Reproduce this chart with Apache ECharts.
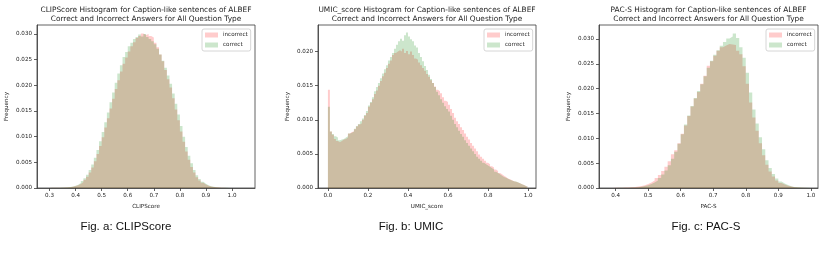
<!DOCTYPE html>
<html><head><meta charset="utf-8">
<script src="https://cdn.jsdelivr.net/npm/echarts@6/dist/echarts.min.js"></script>
<style>html,body{margin:0;padding:0;background:#fff}#c{width:830px;height:255px}</style>
</head><body><div id="c"></div>
<script>
// ---------- data ----------
const seriesNames = ['incorrect', 'correct'];

// Fig a: CLIPScore (bins of width 0.01 starting at 0.29)
const clipBinStart = 0.29, clipBinWidth = 0.01;
const clipIncorrect = [
  0.00002,0.00003,0.00003,0.00004,0.00005,0.00007,0.00009,0.00012,0.00017,0.00025,
  0.00038,0.00055,0.0008,0.00115,0.0016,0.0022,0.0030,0.0040,0.0052,0.0066,
  0.0082,0.0099,0.0118,0.0136,0.0155,0.0174,0.0193,0.0210,0.0227,0.0242,
  0.0254,0.0266,0.0276,0.0284,0.0292,0.0296,0.0301,0.0298,0.0300,0.0296,
  0.0293,0.0283,0.0274,0.0260,0.0247,0.0230,0.0212,0.0196,0.0175,0.0153,
  0.0132,0.0110,0.0090,0.0071,0.0055,0.0041,0.0030,0.0021,0.00145,0.0010,
  0.0007,0.00045,0.0003,0.0002,0.00013,0.00008,0.00005,0.00003,0.00002,0.000015,
  0.00001,0.000008,0.000005,0.000004,0.000003,0.000002
];
const clipCorrect = [
  0.00002,0.00003,0.00004,0.00005,0.00006,0.00008,0.0001,0.00014,0.0002,0.0003,
  0.00045,0.00065,0.00095,0.00135,0.0019,0.0026,0.0035,0.0046,0.0059,0.0074,
  0.0091,0.0109,0.0128,0.0147,0.0167,0.0186,0.0205,0.0223,0.0239,0.0255,
  0.0265,0.0276,0.0283,0.0290,0.0294,0.0299,0.0295,0.0300,0.0294,0.0290,
  0.0286,0.0280,0.0271,0.0260,0.0248,0.0234,0.0219,0.0203,0.0184,0.0164,
  0.0143,0.0121,0.0100,0.0080,0.0063,0.0048,0.0035,0.0025,0.00175,0.0012,
  0.00085,0.00055,0.00036,0.00024,0.00016,0.0001,0.00006,0.00004,0.000025,0.000018,
  0.000012,0.000009,0.000006,0.000004,0.000003,0.000002
];

// Fig b: UMIC_score (bins of width 0.01 starting at 0.00)
const umicBinStart = 0.0, umicBinWidth = 0.01;
const umicIncorrect = [
  0.0144,0.0083,0.0078,0.0072,0.0069,0.0067,0.0069,0.0071,0.0072,0.0074,
  0.0080,0.0082,0.0083,0.0086,0.0090,0.0093,0.0095,0.0100,0.0106,0.0110,
  0.0119,0.0125,0.0130,0.0138,0.0143,0.0150,0.0157,0.0164,0.0169,0.0176,
  0.0182,0.0187,0.0195,0.0198,0.0200,0.0202,0.0200,0.0204,0.0198,0.0201,
  0.0196,0.0200,0.0195,0.0190,0.0188,0.0184,0.0180,0.0176,0.0172,0.0167,
  0.0163,0.0158,0.0154,0.0149,0.0144,0.0142,0.0139,0.0133,0.0128,0.0126,
  0.0122,0.0116,0.0110,0.0103,0.0098,0.0094,0.0089,0.0085,0.0080,0.0075,
  0.0071,0.0066,0.0062,0.0058,0.0054,0.0049,0.0046,0.0043,0.0040,0.0037,
  0.0035,0.0032,0.0030,0.0027,0.0025,0.0022,0.0020,0.0018,0.0016,0.0014,
  0.0013,0.00115,0.0010,0.0009,0.0008,0.0007,0.00055,0.00045,0.0003,0.00015
];
const umicCorrect = [
  0.0119,0.0083,0.0079,0.0076,0.0074,0.0070,0.0071,0.0072,0.0074,0.0076,
  0.0080,0.0081,0.0083,0.0087,0.0091,0.0094,0.0098,0.0102,0.0107,0.0113,
  0.0121,0.0126,0.0133,0.0142,0.0148,0.0154,0.0161,0.0168,0.0174,0.0180,
  0.0187,0.0192,0.0198,0.0204,0.0210,0.0215,0.0219,0.0216,0.0224,0.0228,
  0.0222,0.0218,0.0215,0.0209,0.0206,0.0198,0.0192,0.0186,0.0179,0.0173,
  0.0166,0.0160,0.0154,0.0148,0.0141,0.0136,0.0130,0.0125,0.0120,0.0116,
  0.0112,0.0106,0.0100,0.0094,0.0089,0.0084,0.0079,0.0075,0.0070,0.0066,
  0.0062,0.0058,0.0054,0.0050,0.0046,0.0043,0.0040,0.0037,0.0035,0.0033,
  0.0031,0.0029,0.0027,0.0024,0.0022,0.0020,0.0018,0.0016,0.0015,0.00135,
  0.0012,0.0011,0.0010,0.00095,0.00085,0.0007,0.00055,0.00045,0.0003,0.00015
];

// Fig c: PAC-S (bins of width 0.01 starting at 0.38)
const pacsBinStart = 0.38, pacsBinWidth = 0.01;
const pacsIncorrect = [
  0.00002,0.00003,0.00005,0.00007,0.00009,0.00012,0.00015,0.0002,0.00028,0.0004,
  0.00055,0.0008,0.0011,0.0015,0.0020,0.0026,0.0034,0.0043,0.0054,0.0068,
  0.0076,0.0090,0.0109,0.0126,0.0145,0.0164,0.0180,0.0193,0.0210,0.0226,
  0.0246,0.0255,0.0266,0.0276,0.0283,0.0287,0.0290,0.0289,0.0288,0.0276,
  0.0269,0.0245,0.0210,0.0172,0.0142,0.0115,0.0090,0.0066,0.0047,0.0033,
  0.0023,0.0015,0.0010,0.0007,0.00045,0.00028,0.00017,0.0001,0.00006,0.00004,
  0.00002,0.00001
];
const pacsCorrect = [
  0.00001,0.00002,0.00003,0.00004,0.00005,0.00007,0.00009,0.00012,0.00017,0.00025,
  0.00038,0.00055,0.0008,0.0011,0.0015,0.0020,0.0027,0.0035,0.0046,0.0059,
  0.0073,0.0089,0.0108,0.0128,0.0146,0.0165,0.0181,0.0195,0.0209,0.0225,
  0.0242,0.0256,0.0268,0.0277,0.0286,0.0294,0.0301,0.0305,0.0311,0.0302,
  0.0283,0.0262,0.0232,0.0192,0.0158,0.0130,0.0102,0.0078,0.0056,0.0040,
  0.0028,0.0019,0.0013,0.0009,0.0006,0.00036,0.00022,0.00013,0.00008,0.00005,
  0.00003,0.000015
];

// tick labels
const clipXTicks = [0.3,0.4,0.5,0.6,0.7,0.8,0.9,1.0];
const clipYTicks = [0,0.005,0.010,0.015,0.020,0.025,0.030];
const umicXTicks = [0.0,0.2,0.4,0.6,0.8,1.0];
const umicYTicks = [0,0.005,0.010,0.015,0.020];
const pacsXTicks = [0.4,0.5,0.6,0.7,0.8,0.9,1.0];
const pacsYTicks = [0,0.005,0.010,0.015,0.020,0.025,0.030];

const titles = [
  'CLIPScore Histogram for Caption-like sentences of ALBEF\nCorrect and Incorrect Answers for All Question Type',
  'UMIC_score Histogram for Caption-like sentences of ALBEF\nCorrect and Incorrect Answers for All Question Type',
  'PAC-S Histogram for Caption-like sentences of ALBEF\nCorrect and Incorrect Answers for All Question Type'
];
const xNames = ['CLIPScore', 'UMIC_score', 'PAC-S'];
const captions = ['Fig. a: CLIPScore', 'Fig. b: UMIC', 'Fig. c: PAC-S'];

// ---------- build ----------
function stepData(start, width, vals) {
  const out = vals.map((v, i) => [+(start + i * width).toFixed(5), v]);
  out.push([+(start + vals.length * width).toFixed(5), vals[vals.length - 1]]);
  return out;
}

const RED = 'rgba(255,0,0,0.2)';
const GREEN = 'rgba(0,128,0,0.2)';
const FONT = 'DejaVu Sans';
const AX = '#3a3a3a';

const panels = [
  { grid: {left: 37, top: 25, width: 218, height: 163}, xmin: 0.252, xmax: 1.088, ymax: 0.03175,
    xt: clipXTicks, yt: clipYTicks, xd: 1,
    inc: stepData(clipBinStart, clipBinWidth, clipIncorrect), cor: stepData(clipBinStart, clipBinWidth, clipCorrect),
    legendLeft: 202 },
  { grid: {left: 318, top: 25, width: 218, height: 163}, xmin: -0.0495, xmax: 1.0395, ymax: 0.0239,
    xt: umicXTicks, yt: umicYTicks, xd: 1,
    inc: stepData(umicBinStart, umicBinWidth, umicIncorrect), cor: stepData(umicBinStart, umicBinWidth, umicCorrect),
    legendLeft: 484 },
  { grid: {left: 599, top: 25, width: 219, height: 163}, xmin: 0.349, xmax: 1.022, ymax: 0.0328,
    xt: pacsXTicks, yt: pacsYTicks, xd: 1,
    inc: stepData(pacsBinStart, pacsBinWidth, pacsIncorrect), cor: stepData(pacsBinStart, pacsBinWidth, pacsCorrect),
    legendLeft: 766 }
];

const option = {
  animation: false,
  backgroundColor: '#fff',
  grid: [], xAxis: [], yAxis: [], series: [], legend: [], graphic: []
};

panels.forEach((p, i) => {
  option.grid.push(Object.assign({show: true, borderColor: AX, borderWidth: 0.8, backgroundColor: 'transparent'}, p.grid));
  option.xAxis.push({
    type: 'value', gridIndex: i, min: p.xmin, max: p.xmax,
    name: xNames[i], nameLocation: 'middle', nameGap: 15,
    nameTextStyle: {fontFamily: FONT, fontSize: 5.6, color: '#222'},
    axisLine: {show: true, onZero: false, lineStyle: {color: AX, width: 0.8}},
    axisTick: {show: true, length: 3, lineStyle: {color: AX, width: 0.8}, customValues: p.xt},
    axisLabel: {show: true, fontFamily: FONT, fontSize: 5.6, color: '#222', margin: 5,
      customValues: p.xt, formatter: v => Number(v).toFixed(p.xd)},
    splitLine: {show: false}
  });
  option.yAxis.push({
    type: 'value', gridIndex: i, min: 0, max: p.ymax,
    name: 'Frequency', nameLocation: 'middle', nameGap: 27,
    nameTextStyle: {fontFamily: FONT, fontSize: 5.6, color: '#222'},
    axisLine: {show: true, onZero: false, lineStyle: {color: AX, width: 0.8}},
    axisTick: {show: true, length: 3, lineStyle: {color: AX, width: 0.8}, customValues: p.yt},
    axisLabel: {show: true, fontFamily: FONT, fontSize: 5.6, color: '#222', margin: 5,
      customValues: p.yt, formatter: v => Number(v).toFixed(3)},
    splitLine: {show: false}
  });
  option.series.push({
    name: seriesNames[0], type: 'line', xAxisIndex: i, yAxisIndex: i, step: 'end',
    data: p.inc, showSymbol: false, symbol: 'none',
    lineStyle: {width: 0, color: RED}, itemStyle: {color: RED},
    areaStyle: {color: RED, opacity: 1}, z: 2
  });
  option.series.push({
    name: seriesNames[1], type: 'line', xAxisIndex: i, yAxisIndex: i, step: 'end',
    data: p.cor, showSymbol: false, symbol: 'none',
    lineStyle: {width: 0, color: GREEN}, itemStyle: {color: GREEN},
    areaStyle: {color: GREEN, opacity: 1}, z: 3
  });
  option.legend.push({
    left: p.legendLeft, top: 29, orient: 'vertical', icon: 'rect',
    itemWidth: 13, itemHeight: 5, itemGap: 4,
    padding: [3, 3, 3, 3], backgroundColor: '#fff', borderColor: '#cccccc', borderWidth: 0.8, borderRadius: 2,
    textStyle: {fontFamily: FONT, fontSize: 5.6, color: '#222'},
    selectedMode: false,
    data: [
      {name: seriesNames[0], itemStyle: {color: RED}},
      {name: seriesNames[1], itemStyle: {color: GREEN}}
    ]
  });
  const cx = p.grid.left + p.grid.width / 2;
  option.graphic.push({
    type: 'text', x: cx, y: 6, silent: true,
    style: {text: titles[i], textAlign: 'center', textVerticalAlign: 'top', verticalAlign: 'top',
      fontFamily: FONT, fontSize: 7.4, lineHeight: 9, fill: '#222'}
  });
});

const capX = [126, 411, 706];
captions.forEach((c, i) => {
  option.graphic.push({
    type: 'text', x: capX[i], y: 227, silent: true,
    style: {text: c, textAlign: 'center', textVerticalAlign: 'middle', verticalAlign: 'middle',
      fontFamily: 'Liberation Sans', fontSize: 11.5, fill: '#111'}
  });
});

const chart = echarts.init(document.getElementById('c'), null, {renderer: 'canvas'});
chart.setOption(option);
</script>
</body></html>
